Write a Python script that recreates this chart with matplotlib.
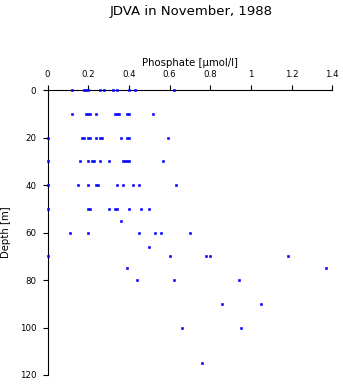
"""JDVA phosphate profile, November 1988."""
import matplotlib
matplotlib.use("Agg")
import matplotlib.pyplot as plt
from matplotlib.ticker import FormatStrFormatter

plt.rcParams["font.family"] = ["DejaVu Sans"]

# phosphate [umol/l] readings grouped by sampling depth [m]
depth_levels = [0, 10, 20, 30, 40, 50, 55, 60, 66, 70, 75, 80, 90, 100, 115]
phosphate = [
    [0.12, 0.18, 0.19, 0.20, 0.26, 0.28, 0.32, 0.34, 0.40, 0.43, 0.62],
    [0.12, 0.19, 0.20, 0.21, 0.24, 0.33, 0.34, 0.35, 0.39, 0.40, 0.52],
    [0.00, 0.17, 0.18, 0.20, 0.21, 0.24, 0.26, 0.27, 0.36, 0.39, 0.40, 0.59],
    [0.00, 0.16, 0.20, 0.22, 0.23, 0.26, 0.30, 0.37, 0.38, 0.39, 0.40, 0.57],
    [0.00, 0.15, 0.20, 0.24, 0.25, 0.34, 0.37, 0.42, 0.45, 0.63],
    [0.00, 0.20, 0.21, 0.30, 0.33, 0.34, 0.40, 0.46, 0.50],
    [0.36],
    [0.11, 0.20, 0.45, 0.53, 0.56, 0.70],
    [0.50],
    [0.00, 0.60, 0.78, 0.80, 1.18],
    [0.39, 1.37],
    [0.44, 0.62, 0.94],
    [0.86, 1.05],
    [0.66, 0.95],
    [0.76],
]
x_ticks = [0, 0.2, 0.4, 0.6, 0.8, 1.0, 1.2, 1.4]
y_ticks = [0, 20, 40, 60, 80, 100, 120]

xs = [v for row in phosphate for v in row]
ys = [d for d, row in zip(depth_levels, phosphate) for _ in row]

fig = plt.figure(figsize=(3.43, 3.84), dpi=100)
ax = fig.add_axes([47.5 / 343, 1 - 375 / 384, (332.3 - 47.5) / 343, (375 - 90.3) / 384])

ax.plot(xs, ys, ls="none", marker="s", markersize=2.15, color="#0000ff",
        markeredgewidth=0.4, markeredgecolor="#0000ff", clip_on=False,
        zorder=5)

ax.set_xlim(0, 1.4)
ax.set_ylim(120, 0)
ax.set_xticks(x_ticks)
ax.set_yticks(y_ticks)
ax.xaxis.set_major_formatter(FormatStrFormatter("%g"))
ax.xaxis.tick_top()
ax.xaxis.set_label_position("top")
ax.tick_params(direction="out", length=3.6, width=0.8, labelsize=6.2, pad=4.5)

for side in ("right", "bottom"):
    ax.spines[side].set_visible(False)
for side in ("left", "top"):
    ax.spines[side].set_linewidth(0.8)

ax.set_xlabel("Phosphate [\u00b5mol/l]", fontsize=7.3, labelpad=3)
fig.text(6 / 343, 1 - 232.5 / 384, "Depth [m]", rotation=90, ha="center",
         va="center", fontsize=7.3)

fig.text(191 / 343, 1 - 12 / 384, "JDVA in November, 1988", ha="center",
         va="center", fontsize=9.5)

fig.savefig("out.png", dpi=100)
